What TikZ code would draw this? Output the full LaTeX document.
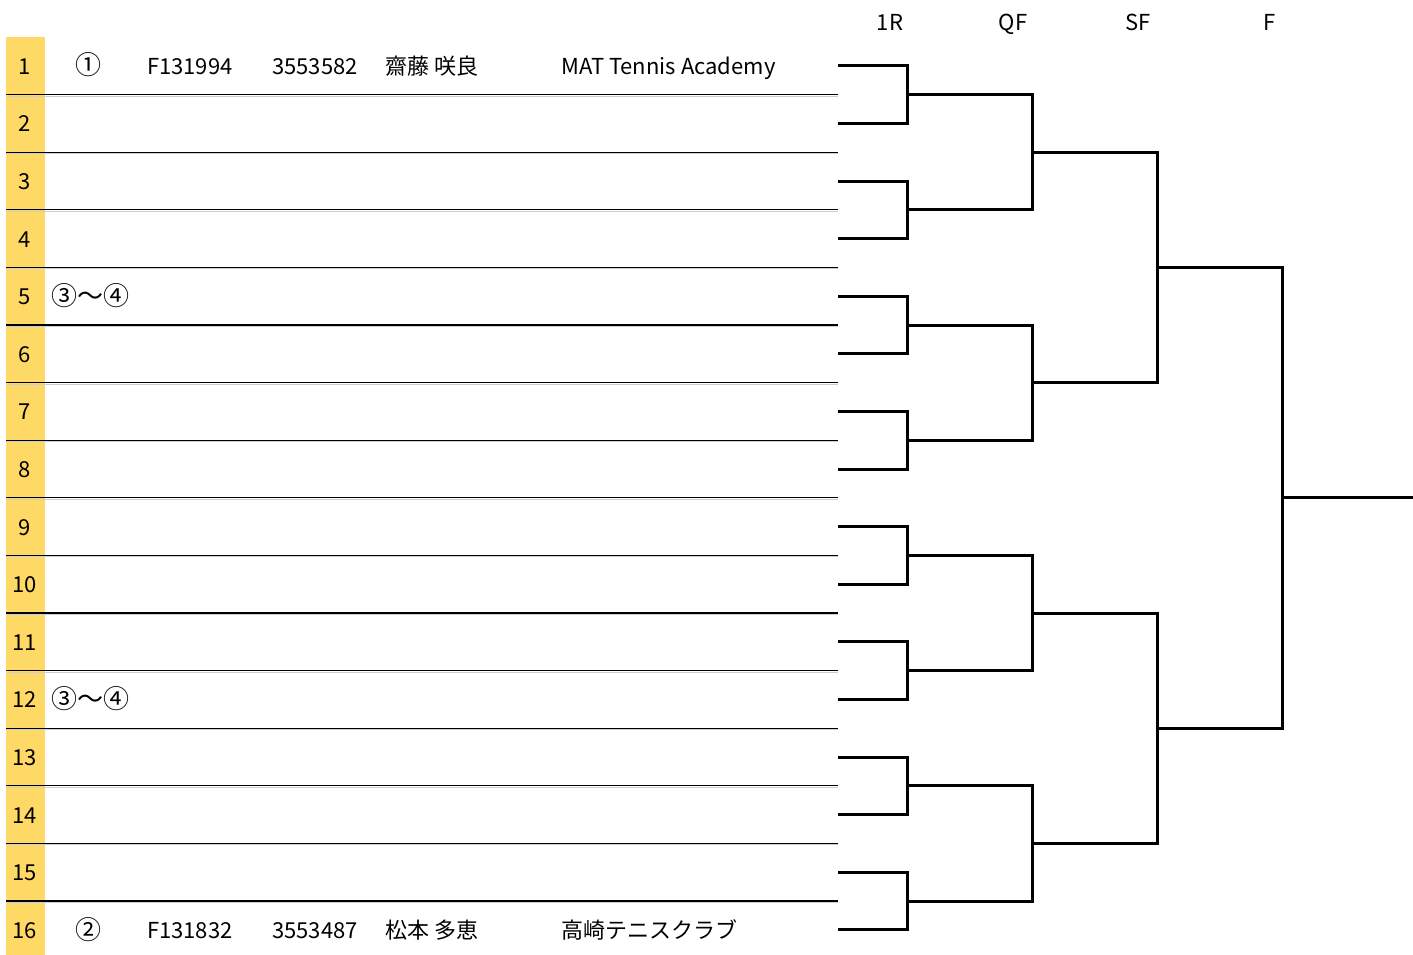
\documentclass[tikz,border=0pt]{standalone}
\usepackage{fontspec}
\setmainfont{Noto Sans CJK JP}
\usetikzlibrary{positioning}
\definecolor{seedgold}{RGB}{255,217,102}
\definecolor{rowshade}{RGB}{205,205,205}

\begin{document}
\begin{tikzpicture}[x=1pt, y=-1pt,
		txt/.style={font=\fontsize{22}{24}\selectfont, inner sep=0pt, anchor=base west},
		seed/.style={txt, font=\fontsize{26}{28}\selectfont},
		num/.style={txt, anchor=base},
		rowline/.style={line width=1.3pt},
		bline/.style={line width=3pt}]
	\useasboundingbox (0,0) rectangle (1413,955);
	
	% Coluna dos numeros
	\fill[seedgold] (6,37) rectangle (45,955);
	\foreach \i in {1,...,16}
		\node[num] (n\i) at (25,{8.2+57.6*\i+8.5}) {\i};
	
	% Linhas da tabela
	\foreach \i in {1,...,15} {
		\coordinate (la\i) at (6,{37+57.6*\i});
		\coordinate (lb\i) at (838,{37+57.6*\i});
		\draw[rowshade, line width=1pt] ([yshift=-1.5pt]la\i) -- ([yshift=-1.5pt]lb\i);
		\draw[rowline] (la\i) -- (lb\i);
	}
	
	% Jogadores
	\node[seed] (seed1) at (75,75) {①};
	\node[txt] (id1) at (147,74.3) {F131994};
	\node[txt] (no1) at (272,74.3) {3553582};
	\node[txt] (name1) at (385,74.3) {齋藤 咲良};
	\node[txt] (club1) at (561,74.3) {MAT Tennis Academy};
	\node[seed] (seed5) at (51,305.4) {③～④};
	\node[seed] (seed12) at (51,708.6) {③～④};
	\node[seed] (seed16) at (75,939) {②};
	\node[txt] (id16) at (147,938.3) {F131832};
	\node[txt] (no16) at (272,938.3) {3553487};
	\node[txt] (name16) at (385,938.3) {松本 多恵};
	\node[txt] (club16) at (561,938.3) {高崎テニスクラブ};
	
	% Rodadas
	\node[num] (h1) at (890,30.5) {1R};
	\node[num] (h2) at (1013,30.5) {QF};
	\node[num] (h3) at (1138,30.5) {SF};
	\node[num] (h4) at (1270,30.5) {F};
	
	% Chave - 1R
	\foreach \k in {1,...,8} {
		\coordinate (e\k a) at (838,{8.2+57.6*(2*\k-1)});
		\coordinate (e\k b) at (838,{8.2+57.6*2*\k});
		\coordinate (m\k) at (907,{37+115.2*\k-57.6});
		\draw[bline] (e\k a) -| (m\k) |- (e\k b);
	}
	% QF
	\foreach \j/\a/\b in {1/1/2, 2/3/4, 3/5/6, 4/7/8} {
		\coordinate (q\j) at (1032,{152.2+230.4*(\j-1)});
		\draw[bline] (m\a) -| (q\j) |- (m\b);
	}
	% SF
	\coordinate (s1) at (1157,267.4);
	\coordinate (s2) at (1157,728.2);
	\draw[bline] (q1) -| (s1) |- (q2);
	\draw[bline] (q3) -| (s2) |- (q4);
	% F
	\coordinate (f) at (1282,497.8);
	\coordinate (w) at (1413,497.8);
	\draw[bline] (s1) -| (f) |- (s2);
	\draw[bline] (f) -- (w);
\end{tikzpicture}
\end{document}
